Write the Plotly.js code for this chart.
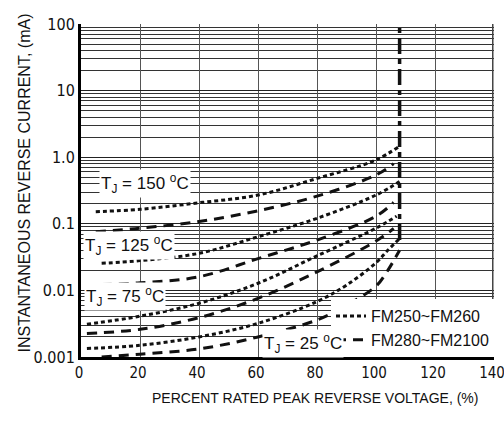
<!DOCTYPE html>
<html>
<head>
<meta charset="utf-8">
<script src="https://cdn.plot.ly/plotly-3.0.1.min.js"></script>
<style>html,body{margin:0;padding:0;background:#fff;}#chart{width:504px;height:425px;}</style>
</head>
<body>
<div id="chart"></div>
<script>
// ---- data ----
const x150dot = [5, 20, 40, 60, 80, 100, 108];
const y150dot = [0.152, 0.165, 0.207, 0.27, 0.48, 0.91, 1.47];
const x150dash = [5, 20, 40, 60, 80, 100, 106];
const y150dash = [0.076, 0.086, 0.108, 0.157, 0.26, 0.54, 0.80];
const x125dot = [7, 20, 40, 60, 80, 100, 108];
const y125dot = [0.0255, 0.028, 0.036, 0.064, 0.121, 0.27, 0.43];
const x125dash = [7, 20, 40, 60, 80, 100, 106];
const y125dash = [0.0123, 0.013, 0.016, 0.030, 0.057, 0.13, 0.21];
const x75dot = [2, 20, 40, 60, 80, 100, 107];
const y75dot = [0.0031, 0.0041, 0.0064, 0.0128, 0.033, 0.086, 0.13];
const x75dash = [2, 20, 40, 60, 80, 100, 106];
const y75dash = [0.00226, 0.0026, 0.0039, 0.0076, 0.019, 0.055, 0.085];
const x25dot = [2, 20, 40, 60, 80, 90, 100, 104, 108];
const y25dot = [0.00134, 0.0015, 0.0020, 0.0032, 0.0068, 0.012, 0.026, 0.04, 0.06];
const x25dash = [7, 20, 40, 60, 80, 90, 100, 104, 108];
const y25dash = [0.001, 0.0011, 0.00132, 0.0020, 0.0036, 0.006, 0.0116, 0.02, 0.04];
const xLimit = [108, 108];
const yLimit = [0.057, 90];

const seriesNames = ['FM250~FM260', 'FM280~FM2100'];
const tempLabels = ['T<sub>J</sub> = 150 <sup>o</sup>C', 'T<sub>J</sub> = 125 <sup>o</sup>C', 'T<sub>J</sub> = 75 <sup>o</sup>C', 'T<sub>J</sub> = 25 <sup>o</sup>C'];
const xTickVals = [0, 20, 40, 60, 80, 100, 120, 140];
const yTickVals = [0.001, 0.01, 0.1, 1, 10, 100];
const yTickText = ['0.001', '0.01', '0.1', '1.0', '10', '100'];

const dotStyle = {color: '#111', width: 3, dash: '4px,3px', shape: 'spline'};
const dashStyle = {color: '#111', width: 3, dash: '10px,7px', shape: 'spline'};

function tr(x, y, style, name, show) {
  return {x: x, y: y, type: 'scatter', mode: 'lines', line: style, name: name,
          showlegend: show, legendgroup: name, hoverinfo: 'skip'};
}

const data = [
  tr(x150dot, y150dot, dotStyle, seriesNames[0], true),
  tr(x150dash, y150dash, dashStyle, seriesNames[1], true),
  tr(x125dot, y125dot, dotStyle, seriesNames[0], false),
  tr(x125dash, y125dash, dashStyle, seriesNames[1], false),
  tr(x75dot, y75dot, dotStyle, seriesNames[0], false),
  tr(x75dash, y75dash, dashStyle, seriesNames[1], false),
  tr(x25dot, y25dot, dotStyle, seriesNames[0], false),
  tr(x25dash, y25dash, dashStyle, seriesNames[1], false),
  {x: xLimit, y: yLimit, type: 'scatter', mode: 'lines', showlegend: false, hoverinfo: 'skip',
   line: {color: '#111', width: 3.5, dash: '16px,5px,5px,5px'}}
];

const narrow = '"Liberation Sans Narrow", "Arial Narrow", "DejaVu Sans Condensed", sans-serif';
const arial = 'Arial, "Liberation Sans", Helvetica, sans-serif';

function lab(text, x, ylog) {
  return {text: text, x: x, y: ylog, xref: 'x', yref: 'y', showarrow: false,
          bgcolor: '#fff', borderpad: 1, font: {family: arial, size: 17, color: '#111'}};
}

const layout = {
  width: 504, height: 425,
  margin: {l: 81, r: 10, t: 24, b: 68},
  paper_bgcolor: '#fff', plot_bgcolor: '#fff',
  showlegend: true,
  legend: {x: 1, xanchor: 'right', y: 0.0, yanchor: 'bottom', bgcolor: '#fff',
           font: {family: arial, size: 16, color: '#111'}, tracegroupgap: 0,
           itemwidth: 30, borderwidth: 0},
  xaxis: {
    range: [0, 140], tickvals: xTickVals, ticks: '', showgrid: true,
    gridcolor: '#555', gridwidth: 1, zeroline: false,
    showline: true, linecolor: '#000', linewidth: 3, ticklabelshift: -2,
    ticklabeloverflow: 'allow',
    tickfont: {family: narrow, size: 15, color: '#111'}
  },
  yaxis: {
    type: 'log', range: [-3, 2], tickvals: yTickVals, ticktext: yTickText, ticks: '',
    showgrid: true, gridcolor: '#222', gridwidth: 1, zeroline: false,
    showline: true, linecolor: '#000', linewidth: 3,
    tickfont: {family: narrow, size: 16, color: '#111'},
    minor: {dtick: 'D1', showgrid: true, gridcolor: '#333', gridwidth: 1, ticks: ''}
  },
  annotations: [
    lab(tempLabels[0], 21.7, -0.402),
    lab(tempLabels[1], 16.3, -1.333),
    lab(tempLabels[2], 14.9, -2.099),
    lab(tempLabels[3], 75.3, -2.79),
    {text: 'PERCENT RATED PEAK REVERSE VOLTAGE, (%)', xref: 'paper', yref: 'paper',
     x: 0.567, y: -0.153, showarrow: false, font: {family: arial, size: 14, color: '#111'}},
    {text: 'INSTANTANEOUS REVERSE CURRENT, (mA)', xref: 'paper', yref: 'paper',
     x: -0.1646, y: 0.5225, textangle: -90, showarrow: false, font: {family: arial, size: 16, color: '#111'}}
  ],
  shapes: [
    {type: 'line', xref: 'paper', yref: 'paper', x0: 0.997, x1: 0.997, y0: 0, y1: 1, layer: 'above',
     line: {color: '#444', width: 1.5}}
  ]
};

Plotly.newPlot('chart', data, layout, {staticPlot: true, displayModeBar: false});
</script>
</body>
</html>
